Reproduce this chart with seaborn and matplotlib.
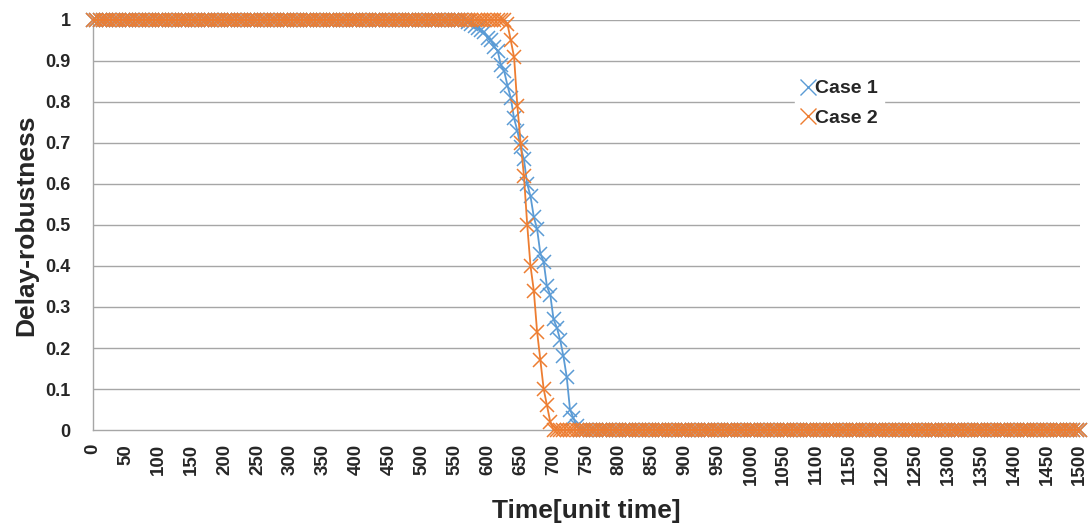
import numpy as np
import pandas as pd
import matplotlib
matplotlib.use('Agg')
import matplotlib.pyplot as plt
from matplotlib.lines import Line2D
from matplotlib.ticker import MultipleLocator
import seaborn as sns

sns.set_style("white")
plt.rcParams['font.family'] = ['Liberation Sans', 'DejaVu Sans']

BLUE = "#5B9BD5"
ORANGE = "#ED7D31"
GRID = "#A6A6A6"

# time axis, one sample every 5 units
time = np.arange(0, 1505, 5)

case1_drop_start = 565
case1_drop = [1.0, 0.995, 0.99, 0.985, 0.98, 0.975, 0.97, 0.955, 0.95, 0.935,
              0.925, 0.89, 0.875, 0.84, 0.81, 0.76, 0.73, 0.69, 0.66, 0.60,
              0.57, 0.52, 0.49, 0.43, 0.41, 0.35, 0.33, 0.27, 0.25, 0.22,
              0.18, 0.13, 0.05, 0.03, 0.01, 0.0]

# Case 2: flat at 1 until 620, steeper drop
case2_drop_start = 625
case2_drop = [1.0, 0.99, 0.95, 0.91, 0.79, 0.70, 0.62, 0.50, 0.40, 0.34,
              0.24, 0.17, 0.10, 0.06, 0.02, 0.0]


def build_series(start, drop):
    n_before = int(start / 5)
    n_after = len(time) - n_before - len(drop)
    return [1.0] * n_before + drop + [0.0] * n_after


df = pd.DataFrame({
    "time": time,
    "Case 1": build_series(case1_drop_start, case1_drop),
    "Case 2": build_series(case2_drop_start, case2_drop),
})

fig = plt.figure(figsize=(10.88, 5.26), dpi=100)
ax = fig.add_axes([0.0855, 0.1825, 0.907, 0.7795])

# horizontal gridlines
for yv in np.arange(0.1, 1.01, 0.1):
    ax.axhline(yv, color=GRID, lw=1.0, zorder=0)

for name, col in [("Case 1", BLUE), ("Case 2", ORANGE)]:
    sns.lineplot(data=df, x="time", y=name, ax=ax, color=col, lw=1.3,
                 marker="x", markersize=9.5, markeredgewidth=1.1,
                 markeredgecolor=col, clip_on=False, zorder=3)

ax.set_xlim(0, 1500)
ax.set_ylim(0, 1)

ax.xaxis.set_major_locator(MultipleLocator(50))
ax.xaxis.set_minor_locator(MultipleLocator(10))
ax.tick_params(axis='x', which='both', direction='in', length=4, color=GRID,
               width=0.8, pad=10, labelsize=13.5, labelrotation=90)
ax.set_xticks(np.arange(0, 1501, 50))
ax.set_xticklabels([str(v) for v in range(0, 1501, 50)], fontweight='bold')

yticks = np.round(np.arange(0, 1.01, 0.1), 1)
ax.set_yticks(yticks)
ax.set_yticklabels(["0"] + [f"{v:.1f}" for v in yticks[1:-1]] + ["1"],
                   fontweight='bold')
ax.tick_params(axis='y', length=0, pad=16, labelsize=13)

for s in ["top", "right"]:
    ax.spines[s].set_visible(False)
for s in ["left", "bottom"]:
    ax.spines[s].set_color(GRID)
    ax.spines[s].set_linewidth(1.0)

ax.set_xlabel("Time[unit time]", fontsize=19, fontweight='bold', labelpad=10)
ax.set_ylabel("Delay-robustness", fontsize=19, fontweight='bold', labelpad=5)

handles = [Line2D([], [], color=BLUE, marker="x", linestyle="none",
                  markersize=11, markeredgewidth=1.0),
           Line2D([], [], color=ORANGE, marker="x", linestyle="none",
                  markersize=11, markeredgewidth=1.0)]
leg = ax.legend(handles, ["Case 1", "Case 2"], loc="upper left",
                bbox_to_anchor=(795 / 1088, 1 - 74 / 526),
                bbox_transform=fig.transFigure, frameon=True,
                prop={'weight': 'bold', 'size': 14}, handlelength=0.7,
                handletextpad=0.05, borderpad=0.3, labelspacing=0.6,
                borderaxespad=0)
leg.get_frame().set_facecolor("white")
leg.get_frame().set_edgecolor("white")
leg.get_frame().set_alpha(1.0)
leg.set_zorder(5)

fig.savefig("out.png", dpi=100)
plt.close(fig)
